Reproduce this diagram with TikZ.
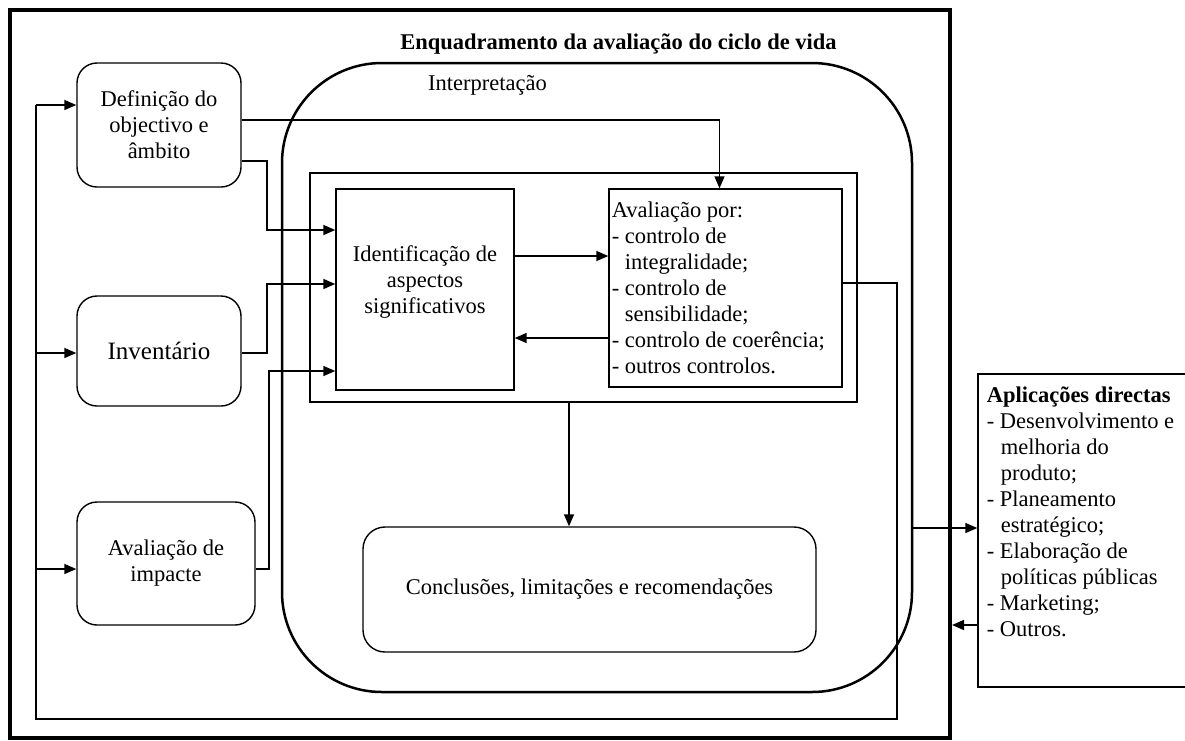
\documentclass[tikz,border=0pt]{standalone}
\usepackage{fontspec}
\setmainfont{Liberation Serif}
\usetikzlibrary{arrows.meta}

\begin{document}
\begin{tikzpicture}[x=1pt, y=-1pt, line width=1.5pt,
    font=\fontsize{22.5}{26}\selectfont,
    rbox/.style={draw, rounded corners=20pt, line width=1.4pt, inner sep=0pt, align=center},
    sqbox/.style={draw, line width=1.4pt, inner sep=0pt},
    arr/.style={-{Triangle[length=12pt,width=10pt]}}]
    \useasboundingbox (0,0) rectangle (1185,740);

    % Rahmen.
    \node[draw, line width=4pt, minimum width=940, minimum height=728] (frame) at (480,374) {};
    \node[draw, line width=2.5pt, rounded corners=100pt, minimum width=630, minimum height=629] (interp) at (597,377.5) {};
    \node[sqbox, minimum width=547, minimum height=229] (inner) at (583.5,287.5) {};

    % Kaesten.
    \node[rbox, minimum width=164, minimum height=124] (defin) at (159,125) {Definição do\\objectivo e\\âmbito};
    \node[rbox, minimum width=164, minimum height=110, font=\fontsize{25}{29}\selectfont] (invent) at (159,351) {Inventário};
    \node[rbox, minimum width=178, minimum height=123] (impact) at (166,563.5) {Avaliação de\\impacte};
    \node[sqbox, minimum width=178, minimum height=201] (ident) at (425,289.5) {};
    \node[align=center] (identtxt) at (425,282) {Identificação de\\aspectos\\significativos};
    \node[sqbox, minimum width=233, minimum height=198] (aval) at (725.5,288) {};
    \node[anchor=north west, align=left, inner sep=0pt] (avaltxt) at (611,201)
        {Avaliação por:\\- controlo de\\\hspace*{13pt}integralidade;\\- controlo de\\\hspace*{13pt}sensibilidade;\\- controlo de coerência;\\- outros controlos.};
    \node[rbox, rounded corners=22pt, minimum width=453, minimum height=125] (concl) at (589.5,589.5) {Conclusões, limitações e recomendações};
    \node[sqbox, minimum width=222, minimum height=313] (aplic) at (1089,530.5) {};
    \node[anchor=north west, align=left, inner sep=0pt] (aplictxt) at (986,386)
        {\textbf{Aplicações directas}\\- Desenvolvimento e\\\hspace*{14pt}melhoria do\\\hspace*{14pt}produto;\\- Planeamento\\\hspace*{14pt}estratégico;\\- Elaboração de\\\hspace*{14pt}políticas públicas\\- Marketing;\\- Outros.};

    % Beschriftung.
    \node[font=\fontsize{22.5}{26}\selectfont\bfseries] (title) at (618.5,44) {Enquadramento da avaliação do ciclo de vida};
    \node (interptxt) at (487.5,85) {Interpretação};

    % Pfeile.
    \draw[arr] (defin.east |- 0,120) -| ([xshift=-6pt]aval.north);
    \draw[arr] (defin.east |- 0,161) -| (267,230) -- (ident.west |- 0,230);
    \draw[arr] (invent.east |- 0,353) -| (267,284) -- (ident.west |- 0,284);
    \draw[arr] (impact.east |- 0,569) -| (269,371) -- (ident.west |- 0,371);
    \draw[arr] (ident.east |- 0,256) -- (aval.west |- 0,256);
    \draw[arr] (aval.west |- 0,338) -- (ident.east |- 0,338);
    \draw[arr] (inner.south -| 569,0) -- (concl.north -| 569,0);

    % Rueckfuehrung.
    \draw (aval.east |- 0,283) -| (897,719) -| (36,105);
    \draw[arr] (36,105) -- (defin.west |- 0,105);
    \draw[arr] (36,353) -- (invent.west |- 0,353);
    \draw[arr] (36,569) -- (impact.west |- 0,569);

    \draw[arr] (interp.east |- 0,528) -- (aplic.west |- 0,528);
    \draw[arr] (aplic.west |- 0,625) -- (frame.east |- 0,625);
\end{tikzpicture}
\end{document}
